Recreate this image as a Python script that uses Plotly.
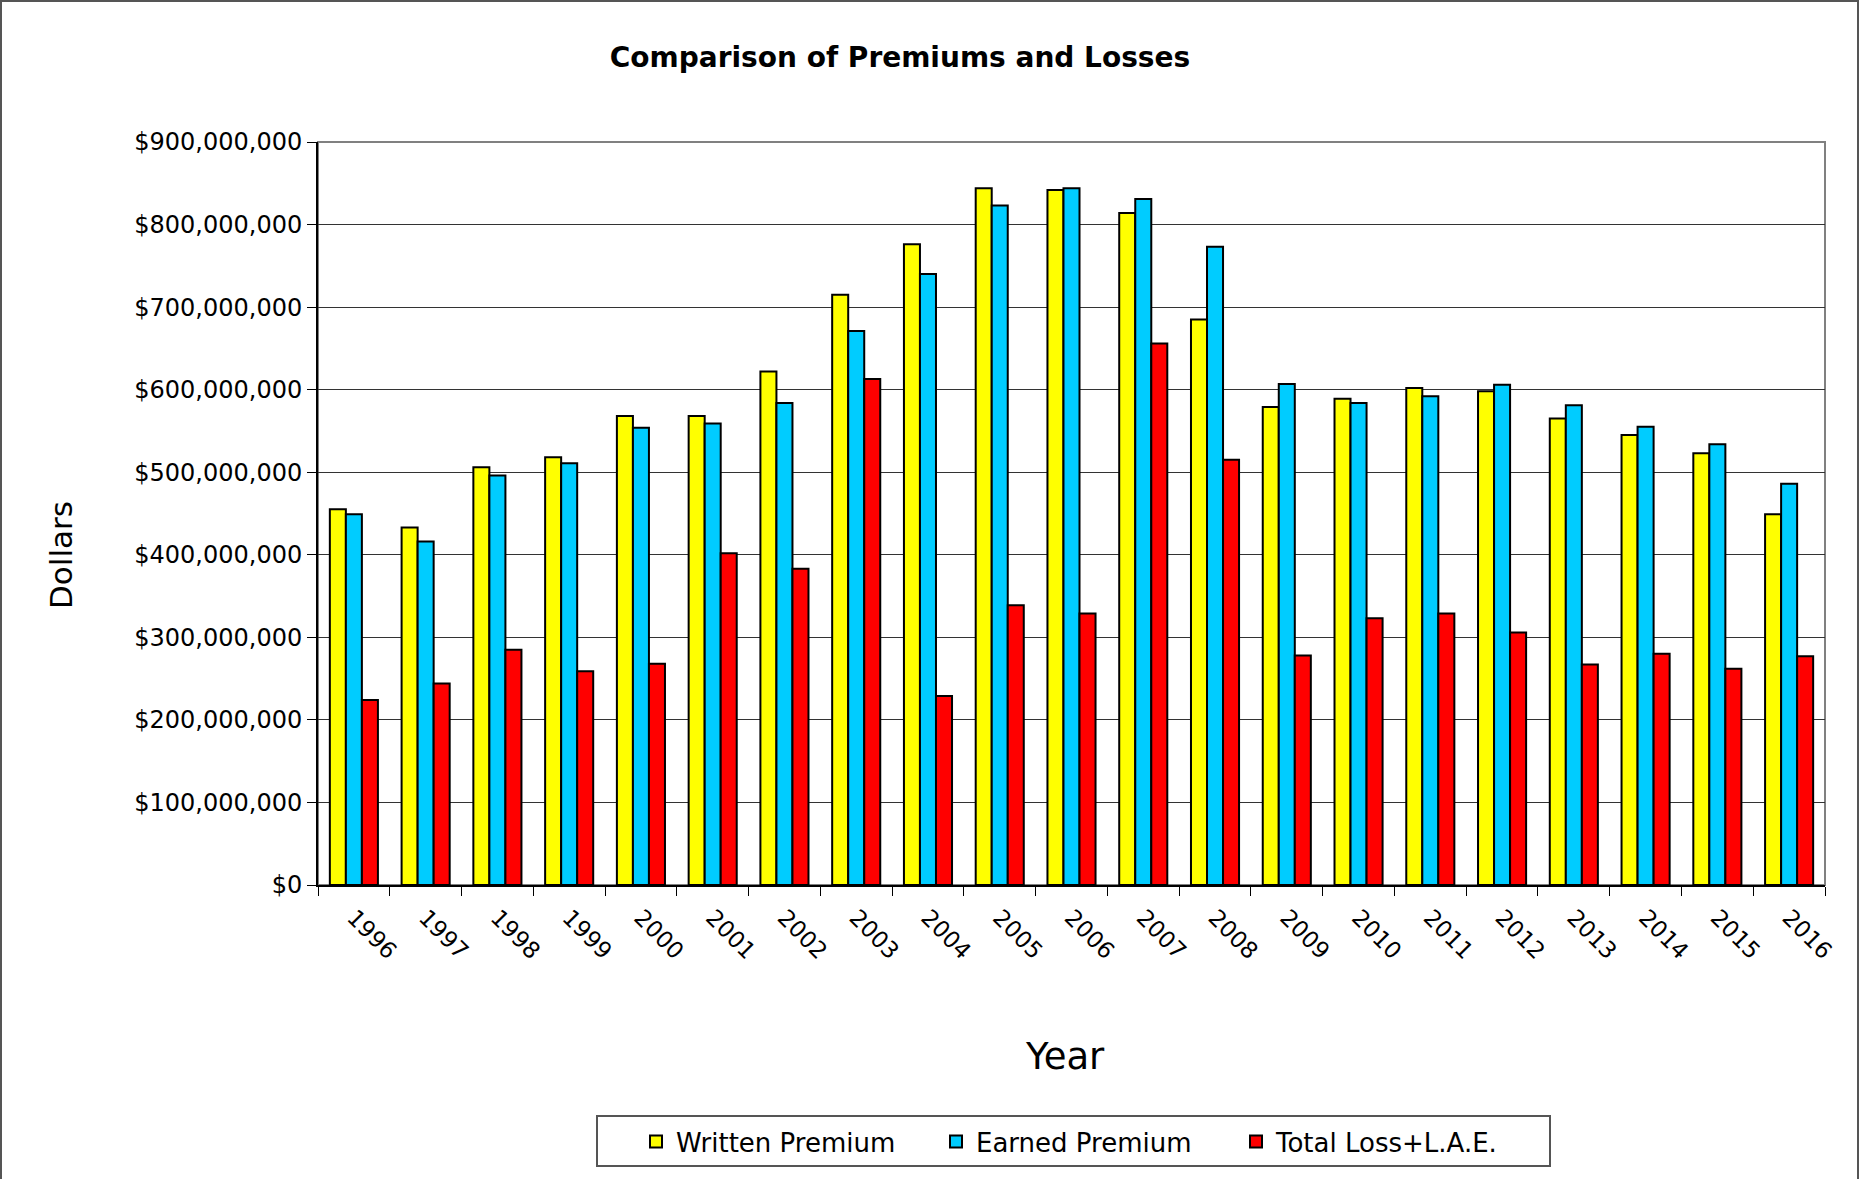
import plotly.graph_objects as go

years = [str(y) for y in range(1996, 2017)]
written_premium = [455e6, 433e6, 506e6, 518e6, 568e6, 568e6, 622e6, 715e6, 776e6, 844e6,
                   842e6, 814e6, 685e6, 579e6, 589e6, 602e6, 598e6, 565e6, 545e6, 523e6, 449e6]
earned_premium = [449e6, 416e6, 496e6, 511e6, 554e6, 559e6, 584e6, 671e6, 740e6, 823e6,
                  844e6, 831e6, 773e6, 607e6, 584e6, 592e6, 606e6, 581e6, 555e6, 534e6, 486e6]
total_loss_lae = [224e6, 244e6, 285e6, 259e6, 268e6, 402e6, 383e6, 613e6, 229e6, 339e6,
                  329e6, 656e6, 515e6, 278e6, 323e6, 329e6, 306e6, 267e6, 280e6, 262e6, 277e6]

series_names = ["Written Premium", "Earned Premium", "Total Loss+L.A.E."]
series_colors = ["#FFFF00", "#00CCFF", "#FF0000"]
series_values = [written_premium, earned_premium, total_loss_lae]

W, H = 1860, 1179
ML, MR, MT, MB = 318, 35, 142, 294
PW, PH = W - ML - MR, H - MT - MB
BOTTOM = MT + PH

font_family = "DejaVu Sans"

fig = go.Figure()
for name, color, vals in zip(series_names, series_colors, series_values):
    fig.add_trace(go.Bar(
        x=years, y=vals, name=name,
        marker=dict(color=color, line=dict(color="black", width=2)),
    ))

fig.update_layout(
    width=W, height=H,
    margin=dict(l=ML, r=MR, t=MT, b=MB, pad=0),
    paper_bgcolor="white", plot_bgcolor="white",
    barmode="group", bargap=0.33, bargroupgap=0,
    font=dict(family=font_family, color="black", size=19),
    title=dict(text="<b>Comparison of Premiums and Losses</b>",
               x=900 / W, xanchor="center", y=1 - 57 / H, yanchor="middle",
               font=dict(family=font_family, size=28, color="black")),
    showlegend=True,
    legend=dict(orientation="h", x=(636 - ML) / PW, xanchor="left",
                y=-(1118 - BOTTOM) / PH, yanchor="top",
                borderwidth=0, bgcolor="rgba(0,0,0,0)",
                font=dict(family=font_family, size=26, color="black"),
                entrywidth=255, entrywidthmode="pixels",
                itemsizing="constant", traceorder="normal"),
    xaxis=dict(type="category", tickangle=45, tickson="boundaries",
               ticks="outside", ticklen=9, tickcolor="black",
               showline=True, linecolor="black", linewidth=2,
               showgrid=False, ticklabelstandoff=8,
               tickfont=dict(family=font_family, size=23, color="black")),
    yaxis=dict(range=[0, 900e6], dtick=100e6, tickformat="$,.0f",
               ticks="outside", ticklen=9, tickcolor="black",
               showline=True, linecolor="black", linewidth=2,
               showgrid=True, gridcolor="#333333", gridwidth=1,
               zeroline=False,
               tickfont=dict(family=font_family, size=24, color="black")),
    annotations=[
        dict(text="Dollars", xref="paper", yref="paper",
             x=-(ML - 61) / PW, y=(BOTTOM - 555) / PH,
             xanchor="center", yanchor="middle", textangle=-90, showarrow=False,
             font=dict(family=font_family, size=31, color="black")),
        dict(text="Year", xref="paper", yref="paper",
             x=(1065 - ML) / PW, y=-(1056 - BOTTOM) / PH,
             xanchor="center", yanchor="middle", showarrow=False,
             font=dict(family=font_family, size=37, color="black")),
    ],
)

# plot-area frame (gray top/right like the reference)
fig.add_shape(type="rect", xref="paper", yref="paper", x0=0, x1=1, y0=0, y1=1,
              line=dict(color="#808080", width=2), layer="below")
# outer chart border
fig.add_shape(type="rect", xref="paper", yref="paper",
              x0=-(ML - 1) / PW, x1=1 + (MR - 2) / PW,
              y0=-(MB + 20) / PH, y1=1 + (MT - 1) / PH,
              line=dict(color="#555555", width=2), layer="below")
# legend box
fig.add_shape(type="rect", xref="paper", yref="paper",
              x0=(597 - ML) / PW, x1=(1550 - ML) / PW,
              y0=-(1166 - BOTTOM) / PH, y1=-(1116 - BOTTOM) / PH,
              line=dict(color="#555555", width=2), layer="below")

fig.write_html("out.html", config={"displayModeBar": False},
               post_script="document.body.style.margin='0';")
